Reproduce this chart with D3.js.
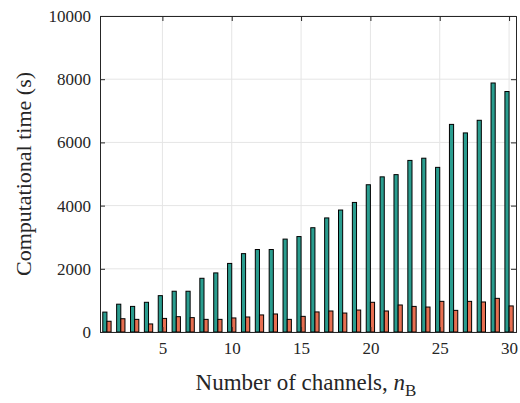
<!DOCTYPE html>
<html>
<head>
<meta charset="utf-8">
<script src="https://cdn.jsdelivr.net/npm/d3@7"></script>
<style>
body { margin: 0; background: #fff; }
</style>
</head>
<body>
<div id="chart"></div>
<script>
// channels n_B = 1..30
var channels = d3.range(1, 31)
var timeA = [630, 880, 810, 940, 1150, 1290, 1290, 1700, 1870, 2170,
             2480, 2610, 2610, 2940, 3020, 3300, 3610, 3860, 4100, 4660,
             4910, 4980, 5430, 5500, 5210, 6570, 6300, 6700, 7880, 7610]
var timeB = [340, 420, 400, 255, 430, 485, 455, 400, 400, 445,
             475, 540, 570, 400, 495, 635, 665, 600, 695, 940,
             665, 855, 810, 790, 970, 685, 970, 950, 1065, 825]
var xTicks = [5, 10, 15, 20, 25, 30]
var yTicks = [0, 2000, 4000, 6000, 8000, 10000]

var W = 520, H = 403
var m = {left: 100, right: 4, top: 16, bottom: 71}
var FONT = "'Times New Roman', Times, 'Liberation Serif', 'DejaVu Serif', serif"

var svg = d3.select("#chart").append("svg").attr("width", W).attr("height", H)
  .attr("font-family", FONT)

var x = d3.scaleLinear().domain([0.5, 30.5]).range([m.left, W - m.right])
var y = d3.scaleLinear().domain([0, 10000]).range([H - m.bottom, m.top])

var g = svg.append("g")

// grid
g.selectAll(".gx").data(xTicks).enter().append("line")
  .attr("x1", d => x(d)).attr("x2", d => x(d))
  .attr("y1", y(0)).attr("y2", y(10000))
  .attr("stroke", "#e5e5e5").attr("stroke-width", 1)
g.selectAll(".gy").data(yTicks).enter().append("line")
  .attr("x1", x(0.5)).attr("x2", x(30.5))
  .attr("y1", d => y(d)).attr("y2", d => y(d))
  .attr("stroke", "#e5e5e5").attr("stroke-width", 1)

var bw = x(0.8) - x(0.5)

g.selectAll(".ba").data(channels).enter().append("rect")
  .attr("x", d => x(d) - bw).attr("width", bw)
  .attr("y", (d, i) => y(timeA[i])).attr("height", (d, i) => y(0) - y(timeA[i]))
  .attr("fill", "#2a9d8f").attr("stroke", "#000").attr("stroke-width", 1)

g.selectAll(".bb").data(channels).enter().append("rect")
  .attr("x", d => x(d)).attr("width", bw)
  .attr("y", (d, i) => y(timeB[i])).attr("height", (d, i) => y(0) - y(timeB[i]))
  .attr("fill", "#e76f51").attr("stroke", "#000").attr("stroke-width", 1)

// axes
var xAx = d3.axisBottom(x).tickValues(xTicks).tickSize(-5).tickPadding(10)
var yAx = d3.axisLeft(y).tickValues(yTicks).tickSize(-5).tickPadding(9).tickFormat(d3.format("d"))
svg.append("g").attr("transform", "translate(0," + y(0) + ")").call(xAx)
svg.append("g").attr("transform", "translate(" + m.left + ",0)").call(yAx)
svg.append("g").attr("transform", "translate(0," + m.top + ")")
  .call(d3.axisTop(x).tickValues(xTicks).tickSize(-5).tickFormat(""))
svg.append("g").attr("transform", "translate(" + (W - m.right) + ",0)")
  .call(d3.axisRight(y).tickValues(yTicks).tickSize(-5).tickFormat(""))

svg.selectAll(".domain, .tick line").attr("stroke", "#262626").attr("stroke-width", 1)
svg.selectAll(".tick text").attr("font-family", FONT).attr("font-size", 17).attr("fill", "#262626")

svg.append("text").attr("x", 306).attr("y", 390).attr("text-anchor", "middle")
  .attr("font-family", FONT).attr("font-size", 23).attr("fill", "#262626")
  .html('Number of channels, <tspan font-style="italic">n</tspan><tspan dy="6" font-size="17">B</tspan>')

svg.append("text").attr("transform", "translate(31," + ((m.top + H - m.bottom) / 2) + ") rotate(-90)")
  .attr("text-anchor", "middle").attr("font-family", FONT).attr("font-size", 22).attr("fill", "#262626")
  .text("Computational time (s)")
</script>
</body>
</html>
